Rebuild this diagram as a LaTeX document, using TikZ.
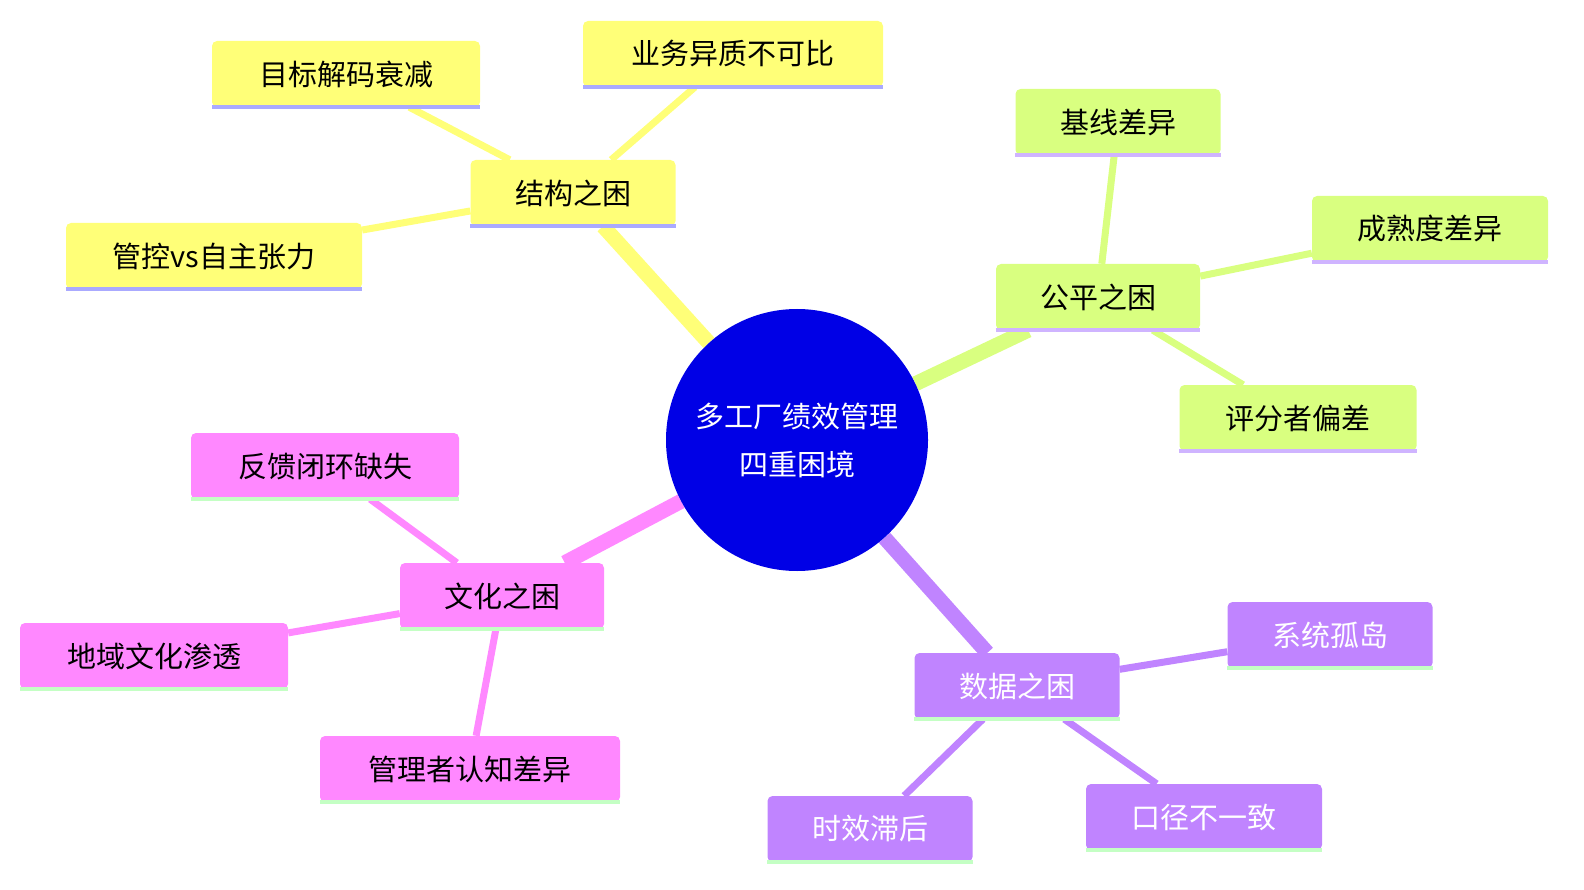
\documentclass[tikz,border=0pt]{standalone}
\usepackage{fontspec}
\newfontfamily\cjk{Noto Sans CJK SC}
\usetikzlibrary{backgrounds}
\definecolor{jg}{HTML}{FFFF78}
\definecolor{jgl}{HTML}{AAAAFF}
\definecolor{gp}{HTML}{D9FF80}
\definecolor{gpl}{HTML}{CFB4FF}
\definecolor{wh}{HTML}{FF88FF}
\definecolor{whl}{HTML}{C4FFC4}
\definecolor{sj}{HTML}{C084FF}
\definecolor{sjl}{HTML}{C4FFC4}
\definecolor{core}{HTML}{0000E6}
\tikzset{
  box/.style={rectangle,rounded corners=5pt,minimum height=66pt,inner sep=0pt,
    font=\cjk\fontsize{29}{34}\selectfont},
  trunk/.style={line width=15pt},
  twig/.style={line width=7pt},
}
\begin{document}
\begin{tikzpicture}[x=1pt,y=-1pt]
  \useasboundingbox (0,0) rectangle (1584,890);
  \node[circle,fill=core,minimum size=262pt,text=white,align=center,
    font=\cjk\fontsize{29}{48}\selectfont] (root) at (797,440) {多工厂绩效管理\\四重困境};
  % 结构之困
  \node[box,fill=jg,minimum width=205pt] (jiegou) at (573,193) {结构之困};
  \node[box,fill=jg,minimum width=268pt] (mubiao) at (346,74) {目标解码衰减};
  \node[box,fill=jg,minimum width=300pt] (yewu) at (733,54) {业务异质不可比};
  \node[box,fill=jg,minimum width=296pt] (guankong) at (214,256) {管控vs自主张力};
  % 公平之困
  \node[box,fill=gp,minimum width=204pt] (gongping) at (1098,297) {公平之困};
  \node[box,fill=gp,minimum width=205pt] (jixian) at (1118,122) {基线差异};
  \node[box,fill=gp,minimum width=236pt] (chengshu) at (1430,229) {成熟度差异};
  \node[box,fill=gp,minimum width=237pt] (pingfen) at (1298,418) {评分者偏差};
  % 文化之困
  \node[box,fill=wh,minimum width=204pt] (wenhua) at (502,596) {文化之困};
  \node[box,fill=wh,minimum width=268pt] (fankui) at (325,466) {反馈闭环缺失};
  \node[box,fill=wh,minimum width=268pt] (diyu) at (154,656) {地域文化渗透};
  \node[box,fill=wh,minimum width=300pt] (guanli) at (470,769) {管理者认知差异};
  % 数据之困
  \node[box,fill=sj,text=white,minimum width=205pt] (shuju) at (1017,686) {数据之困};
  \node[box,fill=sj,text=white,minimum width=205pt] (xitong) at (1330,635) {系统孤岛};
  \node[box,fill=sj,text=white,minimum width=236pt] (koujing) at (1204,817) {口径不一致};
  \node[box,fill=sj,text=white,minimum width=205pt] (shixiao) at (870,829) {时效滞后};
  % bottom lines
  \foreach \n/\c in {jiegou/jgl,mubiao/jgl,yewu/jgl,guankong/jgl,
    gongping/gpl,jixian/gpl,chengshu/gpl,pingfen/gpl,
    wenhua/whl,fankui/whl,diyu/whl,guanli/whl,
    shuju/sjl,xitong/sjl,koujing/sjl,shixiao/sjl}
    \draw[\c,line width=4pt] (\n.south west) -- (\n.south east);
  \begin{scope}[on background layer]
    \draw[trunk,jg] (root) -- (jiegou);
    \draw[trunk,gp] (root) -- (gongping);
    \draw[trunk,wh] (root) -- (wenhua);
    \draw[trunk,sj] (root) -- (shuju);
    \foreach \a/\b in {mubiao/jiegou,yewu/jiegou,guankong/jiegou}
      \draw[twig,jg] (\a) -- (\b);
    \foreach \a/\b in {jixian/gongping,chengshu/gongping,pingfen/gongping}
      \draw[twig,gp] (\a) -- (\b);
    \foreach \a/\b in {fankui/wenhua,diyu/wenhua,guanli/wenhua}
      \draw[twig,wh] (\a) -- (\b);
    \foreach \a/\b in {xitong/shuju,koujing/shuju,shixiao/shuju}
      \draw[twig,sj] (\a) -- (\b);
  \end{scope}
\end{tikzpicture}
\end{document}
